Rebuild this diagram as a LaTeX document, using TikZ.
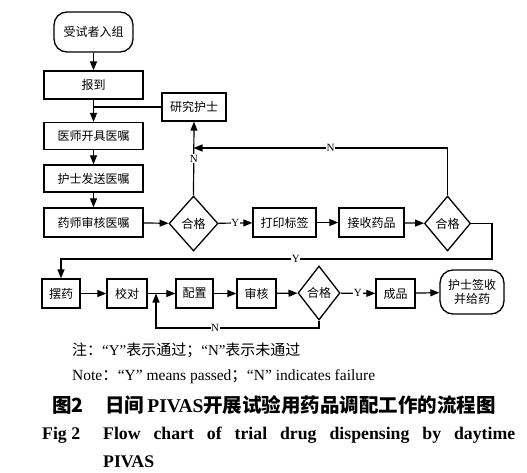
\documentclass[tikz,border=0pt]{standalone}
\usepackage{fontspec}
\setmainfont{Liberation Serif}
\newfontfamily\cjk{Noto Sans CJK SC}
\usetikzlibrary{shapes.geometric,arrows.meta}
\tikzset{
  base/.style={draw, line width=1.3pt, inner sep=0pt, font=\cjk\fontsize{12}{14}\selectfont},
  box/.style={base, rectangle, minimum width=#1, minimum height=28pt},
  term/.style={base, rectangle, rounded corners=13pt, align=center},
  dec/.style={base, diamond, minimum width=#1, minimum height=55pt},
  arr/.style={line width=1.2pt, -{Triangle[length=9pt,width=7pt]}},
  ln/.style={line width=1.2pt},
  lbl/.style={fill=white, inner sep=0.6pt, font=\fontsize{11}{12}\selectfont},
}
\begin{document}
\begin{tikzpicture}[x=1pt,y=-1pt]
\useasboundingbox (0,0) rectangle (527,473);
% row 1 (vertical)
\node[term, minimum width=79pt, minimum height=40pt] (start) at (93.5,32) {受试者入组};
\node[box=99pt] (baodao) at (93.5,85) {报到};
\node[box=64pt] (yanjiu) at (194,107) {研究护士};
\node[box=99pt, minimum height=27pt] (yishi) at (93.5,136) {医师开具医嘱};
\node[box=99pt, minimum height=27pt] (hushi) at (93.5,178.5) {护士发送医嘱};
\node[box=99pt, minimum height=29pt] (yaoshi) at (93.5,222.5) {药师审核医嘱};
\node[dec=49pt] (d1) at (193.5,223.5) {合格};
\node[box=63pt, minimum height=29pt] (dayin) at (284.5,222.5) {打印标签};
\node[box=65pt, minimum height=29pt] (jieshou) at (371.5,222.5) {接收药品};
\node[dec=46pt] (d2) at (447.5,223.5) {合格};
% bottom row
\node[box=38pt, minimum height=29pt] (baiyao) at (61,293.5) {摆药};
\node[box=40pt, minimum height=29pt] (jiaodui) at (127,293.5) {校对};
\node[box=37pt, minimum height=29pt] (peizhi) at (194.5,293.5) {配置};
\node[box=39pt, minimum height=29pt] (shenhe) at (256.5,293.5) {审核};
\node[dec=42pt, minimum height=54pt] (d3) at (319,293) {合格};
\node[box=39pt, minimum height=29pt] (chengpin) at (395.5,293.5) {成品};
\node[term, minimum width=64pt, minimum height=44pt] (final) at (472,292) {护士签收\\并给药};
% coordinates
\coordinate (jn) at (193.5,148);
\coordinate (y1) at (492,223.5);
\coordinate (y2) at (492,259);
\coordinate (y3) at (61,259);
\coordinate (n1) at (319,328);
\coordinate (n2) at (156,328);
\coordinate (n3) at (156,293.5);
% connectors
\draw[arr] (start) -- (baodao);
\draw[arr] (baodao) -- (yishi);
\draw[ln] (yanjiu.west) -- (yanjiu.west -| baodao.south);
\draw[arr] (yishi) -- (hushi);
\draw[arr] (hushi) -- (yaoshi);
\draw[arr] (yaoshi) -- (d1);
\draw[arr] (d1) -- node[lbl]{Y} (dayin);
\draw[arr] (d1.north) -- node[lbl]{N} (yanjiu.south);
\draw[arr] (dayin) -- (jieshou);
\draw[arr] (jieshou) -- (d2);
\draw[arr] (d2.north) |- node[lbl, pos=0.73]{N} (jn);
\draw[arr] (d2.east) -- (y1) -- (y2) -- node[lbl, pos=0.455]{Y} (y3) -- (baiyao.north);
\draw[arr] (baiyao) -- (jiaodui);
\draw[arr] (jiaodui) -- (peizhi);
\draw[arr] (peizhi) -- (shenhe);
\draw[arr] (shenhe) -- (d3);
\draw[arr] (d3) -- node[lbl]{Y} (chengpin);
\draw[arr] (chengpin) -- (final);
\draw[arr] (d3.south) -- (n1) -- node[lbl, pos=0.637]{N} (n2) -- (n3);
% notes and caption
\node[anchor=west, inner sep=0pt, font=\fontsize{15}{17}\selectfont] (note1) at (72,350) {{\cjk 注：}“Y”{\cjk 表示通过；}“N”{\cjk 表示未通过}};
\node[anchor=west, inner sep=0pt, font=\fontsize{15.5}{17}\selectfont] (note2) at (72,377) {Note{\cjk ：}“Y” means passed{\cjk ；}“N” indicates failure};
\node[anchor=west, inner sep=0pt, font=\fontsize{19.5}{22}\selectfont] (cap1a) at (52,405) {{\cjk\bfseries 图2}};
\node[anchor=west, inner sep=0pt, font=\fontsize{19.5}{22}\selectfont] (cap1b) at (105,405) {{\cjk\bfseries 日间}\,\textbf{PIVAS}{\cjk\bfseries 开展试验用药品调配工作的流程图}};
\node[anchor=west, inner sep=0pt, font=\bfseries\fontsize{17.75}{20}\selectfont] (cap2a) at (42,435) {Fig 2};
\node[anchor=west, inner sep=0pt, font=\bfseries\fontsize{17.75}{20}\selectfont] (cap2b) at (103,435) {\makebox[412pt][s]{Flow chart of trial drug dispensing by daytime}};
\node[anchor=west, inner sep=0pt, font=\bfseries\fontsize{17.75}{20}\selectfont] (cap3) at (103,462) {PIVAS};
\end{tikzpicture}
\end{document}
